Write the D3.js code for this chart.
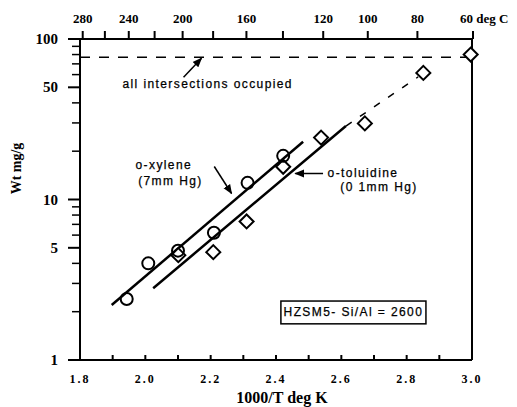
<!DOCTYPE html>
<html>
<head>
<meta charset="utf-8">
<script src="https://cdn.jsdelivr.net/npm/d3@7"></script>
<style>
  body { margin: 0; background: #fff; }
  .tick-lbl { font-family: "Liberation Serif", serif; font-weight: bold; fill: #000; }
  .note { font-family: "Liberation Sans", sans-serif; font-size: 12px; letter-spacing: 1.4px; fill: #000; stroke: #000; stroke-width: 0.25px; }
</style>
</head>
<body>
<div id="chart"></div>
<script>
// o-xylene (7mm Hg), circles
const xyleneX = [1.943, 2.009, 2.100, 2.210, 2.313, 2.422];
const xyleneWt = [2.4, 4.0, 4.8, 6.2, 12.7, 18.7];

// o-toluidine (0.1mm Hg), diamonds
const toluidineX = [2.101, 2.208, 2.310, 2.422, 2.538, 2.672, 2.851, 2.996];
const toluidineWt = [4.5, 4.7, 7.3, 16.0, 24.3, 29.8, 61.5, 80];

// fitted lines (x, Wt)
const xyleneFit = [[1.897, 2.2], [2.483, 22.9]];
const toluidineFit = [[2.024, 2.8], [2.614, 28.7]];
const toluidineExtrap = [[2.614, 28.7], [2.835, 58]];
const saturationWt = 77;

// axes
const xTicks = [1.8, 1.9, 2.0, 2.1, 2.2, 2.3, 2.4, 2.5, 2.6, 2.7, 2.8, 2.9, 3.0];
const xTickLabels = ["1.8", "2.0", "2.2", "2.4", "2.6", "2.8", "3.0"];
const yLabelVals = [1, 5, 10, 50, 100];
const tempTicks = [280, 260, 240, 220, 200, 180, 160, 140, 120, 100, 80, 60];
const tempLabels = [280, 240, 200, 160, 120, 100, 80, 60];

const width = 517, height = 407;
const margin = { top: 39, right: 45, bottom: 47, left: 80 };

const svg = d3.select("#chart").append("svg")
    .attr("width", width)
    .attr("height", height);

const x = d3.scaleLinear().domain([1.8, 3.0]).range([margin.left, width - margin.right]);
const y = d3.scaleLog().domain([1, 100]).range([height - margin.bottom, margin.top]);
const tempToX = t => x(1000 / (t + 273));

const defs = svg.append("defs");
defs.append("marker")
    .attr("id", "arr")
    .attr("viewBox", "0 0 10 10")
    .attr("refX", 9).attr("refY", 5)
    .attr("markerWidth", 6.5).attr("markerHeight", 6.5)
    .attr("orient", "auto")
  .append("path")
    .attr("d", "M0,1 L10,5 L0,9 z")
    .attr("fill", "#000");

const x0 = x.range()[0], x1 = x.range()[1];
const y0 = y.range()[0], y1 = y.range()[1];

// frame: left, bottom, top, right
const frame = svg.append("g").attr("stroke", "#000").attr("stroke-width", 2);
frame.append("line").attr("x1", x0).attr("x2", x0).attr("y1", y0).attr("y2", y1);
frame.append("line").attr("x1", x0 - 12).attr("x2", x1).attr("y1", y0).attr("y2", y0);
frame.append("line").attr("x1", x0 - 12).attr("x2", x1).attr("y1", y1).attr("y2", y1);
frame.append("line").attr("x1", x1).attr("x2", x1).attr("y1", y0).attr("y2", y1);

// bottom ticks
svg.append("g").selectAll("line")
  .data(xTicks)
  .join("line")
    .attr("x1", d => x(d)).attr("x2", d => x(d))
    .attr("y1", y0).attr("y2", y0 - 5)
    .attr("stroke", "#000").attr("stroke-width", 2);

svg.append("g").selectAll("text")
  .data(xTickLabels)
  .join("text")
    .attr("class", "tick-lbl")
    .attr("x", d => x(+d))
    .attr("y", y0 + 23)
    .attr("text-anchor", "middle")
    .attr("font-size", 12)
    .attr("letter-spacing", 2)
    .text(d => d);

svg.append("text")
    .attr("class", "tick-lbl")
    .attr("x", (x0 + x1) / 2 + 6)
    .attr("y", height - 4)
    .attr("text-anchor", "middle")
    .attr("font-size", 16)
    .text("1000/T deg K");

// left ticks
const yMinor = [];
for (let dec = 1; dec < 100; dec *= 10)
  for (let k = 2; k <= 9; k++) yMinor.push(dec * k);

svg.append("g").selectAll("line")
  .data(yMinor.filter(d => !yLabelVals.includes(d)))
  .join("line")
    .attr("x1", x0).attr("x2", x0 - 8)
    .attr("y1", d => y(d)).attr("y2", d => y(d))
    .attr("stroke", "#000").attr("stroke-width", 1.5);

svg.append("g").selectAll("line")
  .data(yLabelVals)
  .join("line")
    .attr("x1", x0).attr("x2", x0 - 12)
    .attr("y1", d => y(d)).attr("y2", d => y(d))
    .attr("stroke", "#000").attr("stroke-width", 2);

svg.append("g").selectAll("text")
  .data(yLabelVals)
  .join("text")
    .attr("class", "tick-lbl")
    .attr("x", x0 - 22)
    .attr("y", d => y(d) + 5)
    .attr("text-anchor", "end")
    .attr("font-size", 15)
    .text(d => d);

svg.append("text")
    .attr("class", "tick-lbl")
    .attr("transform", `translate(21,${y(10) - 31}) rotate(-90)`)
    .attr("text-anchor", "middle")
    .attr("font-size", 14)
    .text("Wt mg/g");

// top temperature axis
svg.append("g").selectAll("line")
  .data(tempTicks)
  .join("line")
    .attr("x1", d => tempToX(d)).attr("x2", d => tempToX(d))
    .attr("y1", y1).attr("y2", y1 - 8)
    .attr("stroke", "#000").attr("stroke-width", 2);

svg.append("g").selectAll("text")
  .data(tempLabels)
  .join("text")
    .attr("class", "tick-lbl")
    .attr("x", d => d == 60 ? tempToX(d) - 13 : tempToX(d))
    .attr("y", 23)
    .attr("text-anchor", d => d == 60 ? "start" : "middle")
    .attr("font-size", 13)
    .text(d => d == 60 ? "60 deg C" : d);

// saturation dashed line
svg.append("line")
    .attr("x1", x0).attr("x2", x1)
    .attr("y1", y(saturationWt)).attr("y2", y(saturationWt))
    .attr("stroke", "#000").attr("stroke-width", 1.5)
    .attr("stroke-dasharray", "10,9");

// fitted lines
const line = d3.line().x(d => x(d[0])).y(d => y(d[1]));
svg.append("path").attr("d", line(xyleneFit))
    .attr("stroke", "#000").attr("stroke-width", 2.5).attr("fill", "none");
svg.append("path").attr("d", line(toluidineFit))
    .attr("stroke", "#000").attr("stroke-width", 2.5).attr("fill", "none");
svg.append("path").attr("d", line(toluidineExtrap))
    .attr("stroke", "#000").attr("stroke-width", 1.5).attr("fill", "none")
    .attr("stroke-dasharray", "7,10");

// points
svg.append("g").selectAll("path")
  .data(toluidineX.map((v, i) => [v, toluidineWt[i]]))
  .join("path")
    .attr("d", d => {
      const cx = x(d[0]), cy = y(d[1]), r = 7;
      return `M${cx},${cy - r}L${cx + r},${cy}L${cx},${cy + r}L${cx - r},${cy}Z`;
    })
    .attr("fill", "#fff").attr("stroke", "#000").attr("stroke-width", 2);

svg.append("g").selectAll("circle")
  .data(xyleneX.map((v, i) => [v, xyleneWt[i]]))
  .join("circle")
    .attr("cx", d => x(d[0])).attr("cy", d => y(d[1]))
    .attr("r", 6)
    .attr("fill", "none").attr("stroke", "#000").attr("stroke-width", 2);

// annotations
function arrow(ax, ay, bx, by) {
  svg.append("line")
      .attr("x1", ax).attr("y1", ay).attr("x2", bx).attr("y2", by)
      .attr("stroke", "#000").attr("stroke-width", 1.5)
      .attr("marker-end", "url(#arr)");
}
function note(tx, ty, s, anchor) {
  svg.append("text").attr("class", "note")
      .attr("x", tx).attr("y", ty)
      .attr("text-anchor", anchor || "start")
      .text(s);
}

note(x(1.93), y(saturationWt) + 31, "all intersections occupied");
arrow(x(2.117), y(saturationWt) + 20, x(2.172), y(saturationWt) + 1);

note(x(1.97), y(10) - 31, "o-xylene");
note(x(1.978), y(10) - 15, "(7mm Hg)");
arrow(x(2.211), y(10) - 33, x(2.264), y(10) - 6);

note(x(2.558), y(10) - 23, "o-toluidine");
note(x(2.597), y(10) - 9, "(0 1mm Hg)");
arrow(x(2.544), y(10) - 26, x(2.459), y(10) - 26);

// sample box
const bx = x(2.415), bw = x(2.859) - x(2.415);
svg.append("rect")
    .attr("x", bx).attr("y", y(2.33))
    .attr("width", bw).attr("height", y(1.68) - y(2.33))
    .attr("fill", "#fff").attr("stroke", "#000").attr("stroke-width", 1.5);
svg.append("text").attr("class", "note")
    .attr("x", bx + bw / 2).attr("y", y(1.98) + 4)
    .attr("text-anchor", "middle")
    .attr("letter-spacing", 0.6)
    .text("HZSM5- Si/Al = 2600");
</script>
</body>
</html>
